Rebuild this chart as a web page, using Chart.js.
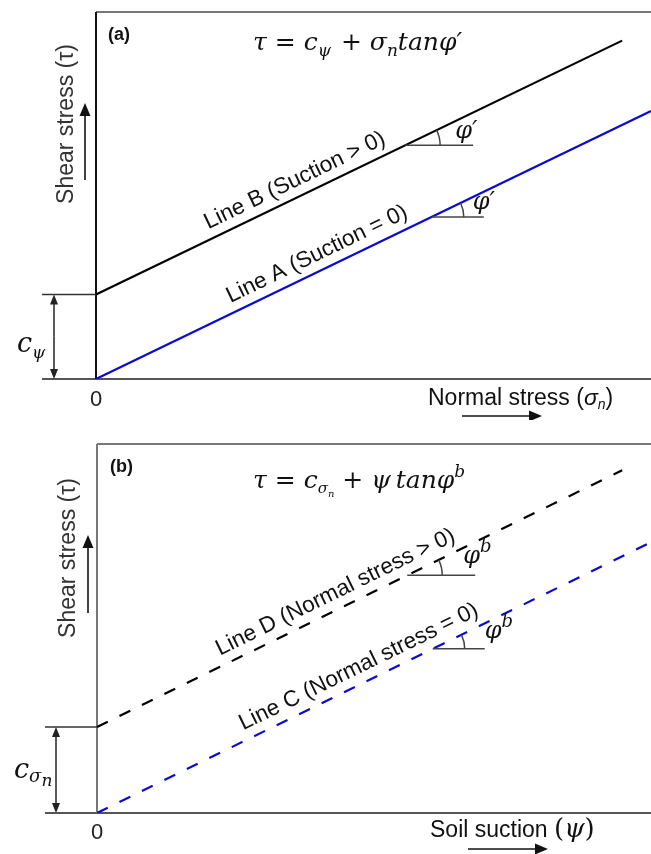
<!DOCTYPE html>
<html><head><meta charset="utf-8">
<script src="https://cdn.jsdelivr.net/npm/chart.js@4"></script>
<style>
html,body{margin:0;padding:0;background:#fff;}
.wrap{position:absolute;left:0;width:651px;}
</style></head>
<body>
<div class="wrap" style="top:0;height:420px"><canvas id="ca" width="651" height="420"></canvas></div>
<div class="wrap" style="top:420px;height:434px"><canvas id="cb" width="651" height="434"></canvas></div>
<script>
// ---------- data (abstract units) ----------
const axisRange = [0, 10];            // both axes run 0..10 (schematic)
// Panel (a)
const lineA_x = [0, 10];   const lineA_y = [0, 7.3];      // Suction = 0
const lineB_x = [0, 9.48]; const lineB_y = [2.3, 9.22];   // Suction > 0
const markerA_x = 6.05, markerB_x = 5.57;
const labelA_x = 2.5, labelB_x = 2.1;
// Panel (b)
const lineC_x = [0, 10];   const lineC_y = [0, 7.34];     // Normal stress = 0
const lineD_x = [0, 9.48]; const lineD_y = [2.33, 9.29];  // Normal stress > 0
const markerC_x = 6.06, markerD_x = 5.6;
const labelC_x = 2.72, labelD_x = 2.3;

const SANS = '"Liberation Sans", Arial, sans-serif';
const SERIF = '"DejaVu Serif", "Liberation Serif", serif';

function pts(xs, ys){ return xs.map((x,i)=>({x:x, y:ys[i]})); }
function yOn(xs, ys, x){ return ys[0] + (ys[1]-ys[0])*(x-xs[0])/(xs[1]-xs[0]); }

function drawRich(ctx, x, y, segs){
  let cx = x;
  segs.forEach(s=>{ ctx.font = s.f; ctx.fillText(s.t, cx, y + (s.dy||0)); cx += ctx.measureText(s.t).width + (s.gap||0); });
}
function arrow(ctx, x1,y1,x2,y2, hl, hw, color, lw){
  const a = Math.atan2(y2-y1, x2-x1);
  ctx.save(); ctx.strokeStyle=color; ctx.fillStyle=color; ctx.lineWidth=lw;
  ctx.beginPath(); ctx.moveTo(x1,y1); ctx.lineTo(x2 - hl*Math.cos(a)*0.8, y2 - hl*Math.sin(a)*0.8); ctx.stroke();
  ctx.beginPath(); ctx.moveTo(x2,y2);
  ctx.lineTo(x2 - hl*Math.cos(a) + hw/2*Math.sin(a), y2 - hl*Math.sin(a) - hw/2*Math.cos(a));
  ctx.lineTo(x2 - hl*Math.cos(a) - hw/2*Math.sin(a), y2 - hl*Math.sin(a) + hw/2*Math.cos(a));
  ctx.closePath(); ctx.fill(); ctx.restore();
}

function makePanel(id, P){
  const frame = {
    id: 'frame'+id,
    beforeDatasetsDraw(chart){
      const ctx = chart.ctx, a = chart.chartArea, xs = chart.scales.x, ys = chart.scales.y;
      ctx.save();
      ctx.lineCap='butt';
      ctx.strokeStyle='#777'; ctx.lineWidth=2;
      ctx.beginPath(); ctx.moveTo(a.left, a.top); ctx.lineTo(chart.width, a.top); ctx.stroke();
      ctx.strokeStyle='#555';
      ctx.beginPath(); ctx.moveTo(P.dimLeft, a.bottom); ctx.lineTo(chart.width, a.bottom); ctx.stroke();
      ctx.strokeStyle=P.leftAxisColor;
      ctx.beginPath(); ctx.moveTo(a.left, a.top); ctx.lineTo(a.left, a.bottom); ctx.stroke();
      const yc = ys.getPixelForValue(P.upper_y[0]);
      ctx.strokeStyle='#333'; ctx.lineWidth=1.5;
      ctx.beginPath(); ctx.moveTo(P.dimLeft, yc); ctx.lineTo(a.left, yc); ctx.stroke();
      arrow(ctx, P.dimX, (yc+a.bottom)/2, P.dimX, yc, 10, 8, '#222', 1.5);
      arrow(ctx, P.dimX, (yc+a.bottom)/2, P.dimX, a.bottom, 10, 8, '#222', 1.5);
      ctx.restore();
    },
    afterDatasetsDraw(chart){
      const ctx = chart.ctx, a = chart.chartArea, xs = chart.scales.x, ys = chart.scales.y;
      ctx.save();
      ctx.fillStyle='#111'; ctx.textAlign='left'; ctx.textBaseline='alphabetic';
      ctx.font='bold 18px '+SANS; ctx.fillText(P.tag, P.tagPos[0], P.tagPos[1]);
      drawRich(ctx, P.formulaPos[0], P.formulaPos[1], P.formula);
      drawRich(ctx, P.cPos[0], P.cPos[1], P.cLabel);
      ctx.textAlign='center'; ctx.font='22px '+SANS; ctx.fillStyle='#222';
      ctx.fillText('0', a.left, P.zeroY);
      ctx.textAlign='left';
      ctx.fillStyle='#111';
      drawRich(ctx, P.xTitlePos[0], P.xTitlePos[1], P.xTitle);
      arrow(ctx, P.xArrow[0], P.xArrow[2], P.xArrow[1], P.xArrow[2], 13, 11, '#111', 1.6);
      ctx.save(); ctx.translate(P.yTitlePos[0], P.yTitlePos[1]); ctx.rotate(-Math.PI/2);
      ctx.textAlign='center'; ctx.font='23px '+SANS; ctx.fillStyle='#333';
      ctx.fillText('Shear stress (τ)', 0, 0); ctx.restore();
      arrow(ctx, P.yArrow[0], P.yArrow[1], P.yArrow[0], P.yArrow[2], 13, 11, '#111', 1.6);
      P.lines.forEach(L=>{
        const p0 = {x: xs.getPixelForValue(L.xs[0]), y: ys.getPixelForValue(L.ys[0])};
        const p1 = {x: xs.getPixelForValue(L.xs[1]), y: ys.getPixelForValue(L.ys[1])};
        const th = Math.atan2(p0.y-p1.y, p1.x-p0.x);
        const lx = xs.getPixelForValue(L.labelX), ly = ys.getPixelForValue(yOn(L.xs, L.ys, L.labelX));
        ctx.save(); ctx.translate(lx, ly); ctx.rotate(-th);
        ctx.font='22.5px '+SANS; ctx.fillStyle='#111'; ctx.textAlign='left';
        ctx.fillText(L.label, 0, -L.off); ctx.restore();
        const mx = xs.getPixelForValue(L.markX), my = ys.getPixelForValue(yOn(L.xs, L.ys, L.markX));
        ctx.save(); ctx.strokeStyle='#444'; ctx.lineWidth=1.5;
        ctx.beginPath(); ctx.moveTo(mx, my); ctx.lineTo(mx + L.hlen, my); ctx.stroke();
        ctx.beginPath(); ctx.arc(mx, my, L.r, -th, 0); ctx.stroke();
        ctx.fillStyle='#111';
        drawRich(ctx, mx + L.tdx, my + L.tdy, L.angleText);
        ctx.restore();
      });
      ctx.restore();
    }
  };
  return new Chart(document.getElementById(id), {
    type: 'line',
    data: { datasets: [
      { data: pts(P.lower_x, P.lower_y), borderColor: '#0a0ad2', borderWidth: 2.2, borderDash: P.dash, pointRadius: 0, tension: 0 },
      { data: pts(P.upper_x, P.upper_y), borderColor: '#000', borderWidth: 2.2, borderDash: P.dash, pointRadius: 0, tension: 0 }
    ]},
    options: {
      responsive: false, animation: false, devicePixelRatio: 1, events: [],
      layout: { padding: P.pad },
      plugins: { legend: {display:false}, tooltip: {enabled:false} },
      scales: {
        x: { type:'linear', min: axisRange[0], max: axisRange[1], display: false },
        y: { type:'linear', min: axisRange[0], max: axisRange[1], display: false }
      }
    },
    plugins: [frame]
  });
}

const phiA = [{t:'φ′', f:'italic 24px '+SERIF}];
const phiB = [{t:'φ', f:'italic 24px '+SERIF}, {t:'b', f:'italic 18px '+SERIF, dy:-11}];

makePanel('ca', {
  pad: {left:96, right:0, top:12, bottom:41},
  lower_x: lineA_x, lower_y: lineA_y, upper_x: lineB_x, upper_y: lineB_y,
  dash: [], leftAxisColor: '#111', dimLeft: 42, dimX: 54,
  tag: '(a)', tagPos: [108, 40],
  formulaPos: [253, 50],
  formula: [
    {t:'τ', f:'italic 25px '+SERIF}, {t:' = ', f:'25px '+SERIF},
    {t:'c', f:'italic 25px '+SERIF}, {t:'ψ', f:'italic 17px '+SERIF, dy:6, gap:2},
    {t:' + ', f:'25px '+SERIF},
    {t:'σ', f:'italic 25px '+SERIF}, {t:'n', f:'italic 17px '+SERIF, dy:6},
    {t:'tanφ′', f:'italic 25px '+SERIF}
  ],
  cPos: [17, 352],
  cLabel: [{t:'c', f:'italic 27px '+SERIF}, {t:'ψ', f:'italic 17px '+SERIF, dy:6}],
  zeroY: 406,
  xTitlePos: [428, 405],
  xTitle: [{t:'Normal stress (', f:'23px '+SANS}, {t:'σ', f:'italic 23px '+SANS}, {t:'n', f:'italic 14px '+SANS, dy:4}, {t:')', f:'23px '+SANS}],
  xArrow: [462, 542, 416],
  yTitlePos: [73, 124], yArrow: [85, 180, 103],
  lines: [
    {xs: lineB_x, ys: lineB_y, label:'Line B (Suction > 0)', labelX: labelB_x, off: 10,
     markX: markerB_x, hlen: 68, r: 35, tdx: 50, tdy: -7, angleText: phiA},
    {xs: lineA_x, ys: lineA_y, label:'Line A (Suction = 0)', labelX: labelA_x, off: 10,
     markX: markerA_x, hlen: 52, r: 32, tdx: 41, tdy: -8, angleText: phiA}
  ]
});

makePanel('cb', {
  pad: {left:97, right:0, top:24, bottom:41},
  lower_x: lineC_x, lower_y: lineC_y, upper_x: lineD_x, upper_y: lineD_y,
  dash: [12, 13], leftAxisColor: '#777', dimLeft: 45, dimX: 56,
  tag: '(b)', tagPos: [110, 52],
  formulaPos: [253, 68],
  formula: [
    {t:'τ', f:'italic 25px '+SERIF}, {t:' = ', f:'25px '+SERIF},
    {t:'c', f:'italic 25px '+SERIF}, {t:'σ', f:'italic 15px '+SERIF, dy:5}, {t:'n', f:'italic 10px '+SERIF, dy:9},
    {t:' + ', f:'25px '+SERIF},
    {t:'ψ\u2009tanφ', f:'italic 25px '+SERIF}, {t:'b', f:'italic 17px '+SERIF, dy:-11}
  ],
  cPos: [14, 358],
  cLabel: [{t:'c', f:'italic 27px '+SERIF}, {t:'σ', f:'italic 18px '+SERIF, dy:4}, {t:'n', f:'italic 17px '+SERIF, dy:8}],
  zeroY: 419,
  xTitlePos: [430, 417],
  xTitle: [{t:'Soil suction ', f:'23px '+SANS}, {t:'(', f:'26px '+SERIF}, {t:'ψ', f:'italic 26px '+SERIF}, {t:')', f:'26px '+SERIF}],
  xArrow: [468, 548, 429],
  yTitlePos: [75, 138], yArrow: [88, 193, 115],
  lines: [
    {xs: lineD_x, ys: lineD_y, label:'Line D (Normal stress > 0)', labelX: labelD_x, off: 10,
     markX: markerD_x, hlen: 68, r: 35, tdx: 56, tdy: -12, angleText: phiB},
    {xs: lineC_x, ys: lineC_y, label:'Line C (Normal stress = 0)', labelX: labelC_x, off: 10,
     markX: markerC_x, hlen: 52, r: 32, tdx: 52, tdy: -11, angleText: phiB}
  ]
});
</script>
</body></html>
